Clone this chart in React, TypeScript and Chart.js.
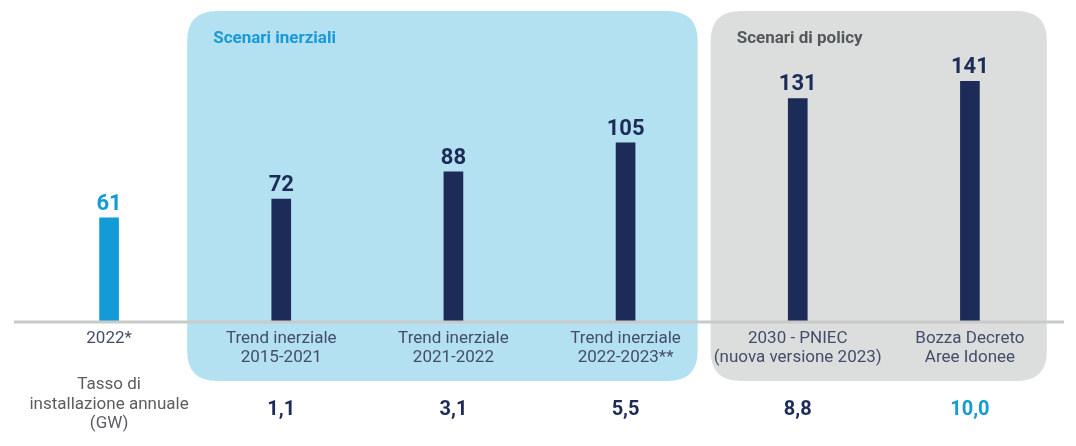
import React, { useEffect, useRef } from "react";
import { Chart, registerables } from "chart.js";

Chart.register(...registerables);

const categories: string[][] = [
  ["2022*"],
  ["Trend inerziale", "2015-2021"],
  ["Trend inerziale", "2021-2022"],
  ["Trend inerziale", "2022-2023**"],
  ["2030 - PNIEC", "(nuova versione 2023)"],
  ["Bozza Decreto", "Aree Idonee"],
];
const capacity: number[] = [61, 72, 88, 105, 131, 141];
const annualRate: (number | null)[] = [null, 1.1, 3.1, 5.5, 8.8, 10.0];
const rateTitle: string[] = ["Tasso di", "installazione annuale", "(GW)"];
const groupTitles: string[] = ["Scenari inerziali", "Scenari di policy"];

const LIGHT = "#149bd7";
const NAVY = "#1c2b57";
const barColors = capacity.map((_, i) => (i === 0 ? LIGHT : NAVY));
const rateColors = annualRate.map((_, i) => (i === annualRate.length - 1 ? LIGHT : NAVY));
const FONT = "Roboto, 'Noto Sans', sans-serif";

function roundRect(ctx: CanvasRenderingContext2D, x: number, y: number, w: number, h: number, r: number) {
  ctx.beginPath();
  ctx.moveTo(x + r, y);
  ctx.lineTo(x + w - r, y);
  ctx.quadraticCurveTo(x + w, y, x + w, y + r);
  ctx.lineTo(x + w, y + h - r);
  ctx.quadraticCurveTo(x + w, y + h, x + w - r, y + h);
  ctx.lineTo(x + r, y + h);
  ctx.quadraticCurveTo(x, y + h, x, y + h - r);
  ctx.lineTo(x, y + r);
  ctx.quadraticCurveTo(x, y, x + r, y);
  ctx.closePath();
}

const decorPlugin = {
  id: "decor",
  beforeDraw(chart: any) {
    const ctx = chart.ctx as CanvasRenderingContext2D;
    const xs = chart.scales.x;
    const p = (i: number) => xs.getPixelForValue(i);
    const top = 11;
    const bottom = 381;
    const blueL = (p(0) + p(1)) / 2 - 8;
    const midR = (p(3) + p(4)) / 2;
    const blueR = midR - 14;
    const grayL = midR - 1;
    const grayR = p(5) + 77;
    ctx.save();
    ctx.fillStyle = "#b3e1f1";
    roundRect(ctx, blueL, top, blueR - blueL, bottom - top, 30);
    ctx.fill();
    ctx.fillStyle = "#dcdedd";
    roundRect(ctx, grayL, top, grayR - grayL, bottom - top, 30);
    ctx.fill();
    ctx.font = `bold 17px ${FONT}`;
    ctx.textBaseline = "middle";
    ctx.textAlign = "left";
    ctx.fillStyle = "#1a9ad6";
    ctx.fillText(groupTitles[0], blueL + 26, 39);
    ctx.fillStyle = "#53585b";
    ctx.fillText(groupTitles[1], grayL + 26, 39);
    ctx.restore();
  },
  afterDatasetsDraw(chart: any) {
    const ctx = chart.ctx as CanvasRenderingContext2D;
    const xs = chart.scales.x;
    const area = chart.chartArea;
    ctx.save();
    // baseline axis
    ctx.strokeStyle = "#c8c9c9";
    ctx.lineWidth = 3;
    ctx.beginPath();
    ctx.moveTo(area.left - 9, area.bottom);
    ctx.lineTo(area.right + 8, area.bottom);
    ctx.stroke();
    // value labels
    const meta = chart.getDatasetMeta(0);
    ctx.font = `bold 22px ${FONT}`;
    ctx.textAlign = "center";
    ctx.textBaseline = "alphabetic";
    meta.data.forEach((el: any, i: number) => {
      ctx.fillStyle = barColors[i];
      ctx.fillText(String(capacity[i]), el.x, el.y - 8);
    });
    // rate row
    ctx.textBaseline = "middle";
    ctx.font = `17px ${FONT}`;
    ctx.fillStyle = "#5a5d60";
    rateTitle.forEach((t, j) => {
      ctx.fillText(t, xs.getPixelForValue(0), 385 + j * 19.5);
    });
    ctx.font = `bold 20px ${FONT}`;
    annualRate.forEach((v, i) => {
      if (v === null) return;
      ctx.fillStyle = rateColors[i];
      ctx.fillText(v.toFixed(1).replace(".", ","), xs.getPixelForValue(i), 410);
    });
    ctx.restore();
  },
};

export default function App() {
  const ref = useRef<HTMLCanvasElement | null>(null);
  useEffect(() => {
    if (!ref.current) return;
    const chart = new Chart(ref.current, {
      type: "bar",
      data: {
        labels: categories,
        datasets: [
          {
            data: capacity,
            backgroundColor: barColors,
            barThickness: 19,
            borderWidth: 0,
          },
        ],
      },
      options: {
        animation: false,
        responsive: false,
        maintainAspectRatio: false,
        layout: { padding: { left: 23, right: 20, top: 49, bottom: 0 } },
        plugins: { legend: { display: false }, tooltip: { enabled: false }, title: { display: false } },
        scales: {
          x: {
            offset: true,
            grid: { display: false, drawTicks: false },
            border: { display: false },
            ticks: {
              color: "#434d6b",
              padding: 7,
              maxRotation: 0,
              autoSkip: false,
              font: { family: FONT, size: 17, lineHeight: "19px" },
            },
            afterFit: (scale: any) => {
              scale.height = 124;
            },
          },
          y: {
            display: false,
            min: 0,
            max: 160,
          },
        },
      },
      plugins: [decorPlugin],
    });
    return () => chart.destroy();
  }, []);
  return (
    <div style={{ position: "fixed", left: 0, top: 0, width: 1076, height: 446, background: "#fff" }}>
      <canvas ref={ref} width={1076} height={446} style={{ display: "block" }} />
    </div>
  );
}
